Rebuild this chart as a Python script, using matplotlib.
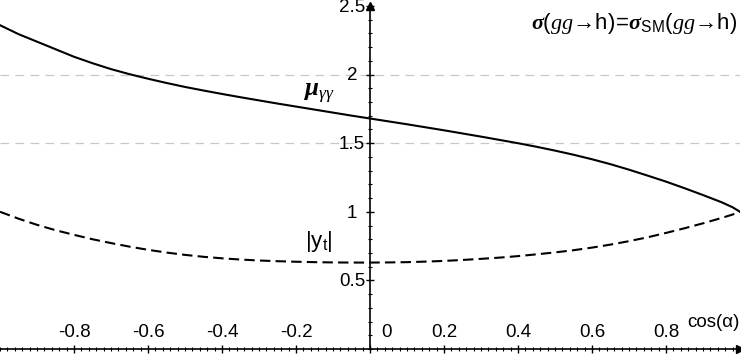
import numpy as np
import matplotlib
matplotlib.use("Agg")
import matplotlib.pyplot as plt
from matplotlib.ticker import MultipleLocator

plt.rcParams['font.family'] = ['Liberation Sans', 'DejaVu Sans']
plt.rcParams['mathtext.fontset'] = 'custom'
plt.rcParams['mathtext.rm'] = 'Liberation Sans'
plt.rcParams['mathtext.it'] = 'Liberation Serif:italic'
plt.rcParams['mathtext.bf'] = 'Liberation Serif:italic:bold'

# values
cos_alpha = [-1.0, -0.95, -0.9, -0.85, -0.8, -0.75, -0.7, -0.65, -0.6, -0.55,
             -0.5, -0.45, -0.4, -0.35, -0.3, -0.25, -0.2, -0.15, -0.1, -0.05,
             0.0, 0.05, 0.1, 0.15, 0.2, 0.25, 0.3, 0.35, 0.4, 0.45,
             0.5, 0.55, 0.6, 0.65, 0.7, 0.75, 0.8, 0.85, 0.9, 0.95, 0.98, 1.0]
mu_gg = [2.36, 2.295, 2.24, 2.185, 2.13, 2.083, 2.04, 2.003, 1.97, 1.939,
         1.91, 1.884, 1.859, 1.835, 1.812, 1.789, 1.767, 1.745, 1.723, 1.701,
         1.68, 1.659, 1.638, 1.616, 1.594, 1.571, 1.548, 1.524, 1.5, 1.474,
         1.446, 1.416, 1.383, 1.347, 1.307, 1.264, 1.22, 1.172, 1.122, 1.07, 1.033, 1.0]
yt_abs = [1.0, 0.95, 0.905, 0.866, 0.832, 0.8, 0.772, 0.746, 0.723, 0.703,
          0.686, 0.672, 0.661, 0.652, 0.645, 0.64, 0.636, 0.633, 0.631, 0.63,
          0.63, 0.631, 0.633, 0.637, 0.642, 0.649, 0.657, 0.666, 0.677, 0.69,
          0.704, 0.72, 0.739, 0.761, 0.786, 0.814, 0.846, 0.88, 0.916, 0.955, 0.98, 1.0]

xticks = [-0.8, -0.6, -0.4, -0.2, 0, 0.2, 0.4, 0.6, 0.8]
yticks = [0.5, 1, 1.5, 2, 2.5]
grid_y = [1.5, 2]

fig = plt.figure(figsize=(7.41, 3.55), dpi=100)
ax = fig.add_axes([0, 6 / 355, 740 / 741, 343 / 355])
ax.set_xlim(-1, 1)
ax.set_ylim(0, 2.5)

for g in grid_y:
    ax.axhline(g, color='#c8c8c8', lw=0.9, dashes=(7, 5), zorder=0)

ax.plot(cos_alpha, mu_gg, color='black', lw=1.5)
ax.plot(cos_alpha, yt_abs, color='black', lw=1.5, dashes=(5, 2.5))

# axes through the origin
for s in ['top', 'right']:
    ax.spines[s].set_visible(False)
ax.spines['left'].set_position(('data', 0))
ax.spines['bottom'].set_position(('data', 0))
ax.spines['left'].set_linewidth(1.2)
ax.spines['bottom'].set_linewidth(1.2)
ax.plot(1, 0, '>k', ms=6, transform=ax.get_yaxis_transform(), clip_on=False)
ax.plot(0, 1, '^k', ms=6, transform=ax.get_xaxis_transform(), clip_on=False)

ax.set_xticks(xticks)
ax.set_yticks(yticks)
ax.xaxis.set_minor_locator(MultipleLocator(0.02))
ax.yaxis.set_minor_locator(MultipleLocator(0.1))
ax.tick_params(which='major', direction='inout', length=6, width=1,
               labelbottom=False, labelleft=False)
ax.tick_params(which='minor', direction='inout', length=3, width=0.8)

for xt in xticks:
    dx = 12 if xt == 0 else 0
    ax.annotate('%g' % xt, (xt, 0), xytext=(dx, 6), textcoords='offset points',
                ha='center', va='bottom', fontsize=13.5)
for yt in yticks:
    ax.annotate('%g' % yt, (0, yt), xytext=(-13, -1), textcoords='offset points',
                ha='center', va='center', fontsize=13.5)

ax.annotate('cos(α)', (1, 0), xytext=(0, 13), textcoords='offset points',
            ha='right', va='bottom', fontsize=13.5)

ax.text(0.992, 2.37,
        r'$\mathbf{\sigma}\mathrm{(}gg\mathrm{→h)\!=\!}\mathbf{\sigma}_{\mathrm{SM}}\mathrm{(}gg\mathrm{→h)}$',
        ha='right', va='center', fontsize=16)
ax.text(-0.18, 1.86, r'$\mathbf{\mu}_{\gamma\gamma}$', ha='left', va='center', fontsize=18)
ax.text(-0.175, 0.78, r'$\mathrm{|y}_{\mathrm{t}}\mathrm{|}$', ha='left', va='center', fontsize=16)

fig.savefig('out.png', dpi=100)
